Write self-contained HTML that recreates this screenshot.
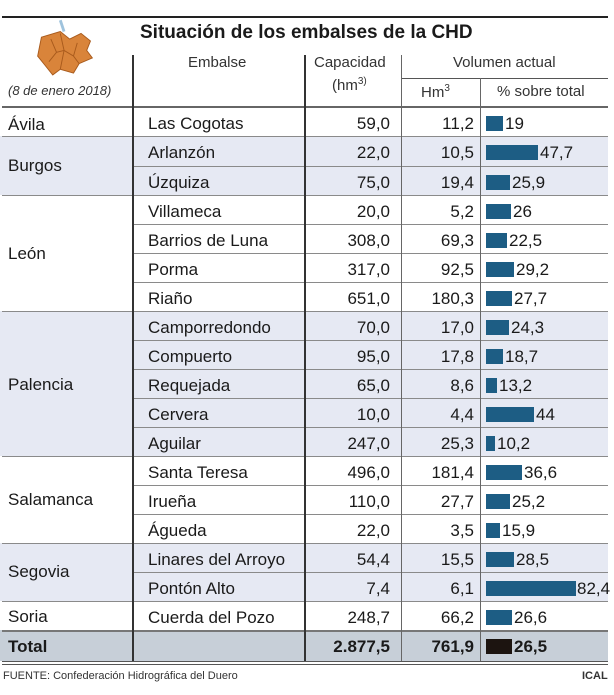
<!DOCTYPE html>
<html><head><meta charset="utf-8"><style>
*{margin:0;padding:0;box-sizing:border-box}
body{width:614px;height:695px;background:#fff;position:relative;overflow:hidden;font-family:"Liberation Sans",sans-serif;color:#1a1a1a}
.a{position:absolute}
.bg{position:absolute;left:0;width:608px}
.r{position:absolute;left:0;width:608px;height:29px;font-size:17px;line-height:33px}
.r span{position:absolute;white-space:nowrap}
.e{left:148px}
.c{right:218px;text-align:right}
.h{right:134px;text-align:right}
.b{left:486px;top:9px;height:15px;background:#1d5d84}
.hl{position:absolute;height:1px;background:#8a8a8a}
.vl{position:absolute;width:2px;background:#333}
.p{position:absolute;left:8px;font-size:17px}
</style></head><body>
<div class="a" style="left:2px;top:16px;width:606px;height:2px;background:#222"></div>
<svg class="a" style="left:32px;top:18px" width="66" height="62" viewBox="0 0 70 65">
<path d="M30 2 L34 14" stroke="#9fc3dd" stroke-width="3"/>
<path d="M10 20 L30 14 L40 22 L52 16 L62 24 L58 34 L64 42 L50 48 L44 58 L30 54 L22 60 L14 50 L6 40 L8 30 Z" fill="#d9843a" stroke="#a85a1c" stroke-width="1"/>
<path d="M20 22 L26 36 L18 46 M30 16 L34 34 L44 40 L48 26 M26 36 L34 34 M44 40 L50 48 M34 34 L30 54" stroke="#a85a1c" fill="none"/>
</svg>
<div class="a" style="left:140px;top:22px;font-size:19px;font-weight:bold">Situación de los embalses de la CHD</div>
<div class="a" style="left:8px;top:83px;font-size:13px;font-style:italic;color:#333">(8 de enero 2018)</div>
<div class="a" style="left:188px;top:54px;font-size:15px;color:#333">Embalse</div>
<div class="a" style="left:314px;top:54px;font-size:15px;color:#333">Capacidad</div>
<div class="a" style="left:332px;top:76px;font-size:15px;color:#333">(hm<sup style="font-size:10px">3)</sup></div>
<div class="a" style="left:453px;top:54px;font-size:15px;color:#333">Volumen actual</div>
<div class="a" style="left:421px;top:83px;font-size:15px;color:#333">Hm<sup style="font-size:10px">3</sup></div>
<div class="a" style="left:497px;top:83px;font-size:15px;color:#333">% sobre total</div>
<div class="hl" style="left:402px;top:78px;width:206px;background:#555"></div>
<div class="hl" style="left:2px;top:106px;width:606px;height:2px;background:#666"></div>
<div class="bg" style="top:136px;height:59px;background:#e6e9f3"></div>
<div class="bg" style="top:311px;height:145px;background:#e6e9f3"></div>
<div class="bg" style="top:543px;height:58px;background:#e6e9f3"></div>
<div class="bg" style="top:630px;height:31px;background:#c7cfd8"></div>
<div class="hl" style="left:2px;top:136px;width:606px"></div>
<div class="hl" style="left:133px;top:166px;width:475px"></div>
<div class="hl" style="left:2px;top:195px;width:606px"></div>
<div class="hl" style="left:133px;top:224px;width:475px"></div>
<div class="hl" style="left:133px;top:253px;width:475px"></div>
<div class="hl" style="left:133px;top:282px;width:475px"></div>
<div class="hl" style="left:2px;top:311px;width:606px"></div>
<div class="hl" style="left:133px;top:340px;width:475px"></div>
<div class="hl" style="left:133px;top:369px;width:475px"></div>
<div class="hl" style="left:133px;top:398px;width:475px"></div>
<div class="hl" style="left:133px;top:427px;width:475px"></div>
<div class="hl" style="left:2px;top:456px;width:606px"></div>
<div class="hl" style="left:133px;top:485px;width:475px"></div>
<div class="hl" style="left:133px;top:514px;width:475px"></div>
<div class="hl" style="left:2px;top:543px;width:606px"></div>
<div class="hl" style="left:133px;top:572px;width:475px"></div>
<div class="hl" style="left:2px;top:601px;width:606px"></div>
<div class="hl" style="left:2px;top:630px;width:606px;height:2px;background:#777"></div>
<div class="hl" style="left:2px;top:661px;width:606px;height:1px;background:#555"></div>
<div class="hl" style="left:2px;top:664px;width:606px;height:1px;background:#555"></div>
<div class="vl" style="left:132px;top:55px;height:606px"></div>
<div class="vl" style="left:304px;top:55px;height:606px"></div>
<div class="vl" style="left:401px;top:55px;height:606px;width:1px;background:#666"></div>
<div class="vl" style="left:480px;top:78px;height:583px;width:1px;background:#666"></div>
<div class="p" style="top:115px">Ávila</div>
<div class="p" style="top:156px">Burgos</div>
<div class="p" style="top:244px">León</div>
<div class="p" style="top:375px">Palencia</div>
<div class="p" style="top:490px">Salamanca</div>
<div class="p" style="top:562px">Segovia</div>
<div class="p" style="top:607px">Soria</div>
<div class="r" style="top:107px"><span class="e">Las Cogotas</span><span class="c">59,0</span><span class="h">11,2</span><span class="b" style="width:17px"></span><span style="left:505px">19</span></div>
<div class="r" style="top:136px"><span class="e">Arlanzón</span><span class="c">22,0</span><span class="h">10,5</span><span class="b" style="width:52px"></span><span style="left:540px">47,7</span></div>
<div class="r" style="top:166px"><span class="e">Úzquiza</span><span class="c">75,0</span><span class="h">19,4</span><span class="b" style="width:24px"></span><span style="left:512px">25,9</span></div>
<div class="r" style="top:195px"><span class="e">Villameca</span><span class="c">20,0</span><span class="h">5,2</span><span class="b" style="width:25px"></span><span style="left:513px">26</span></div>
<div class="r" style="top:224px"><span class="e">Barrios de Luna</span><span class="c">308,0</span><span class="h">69,3</span><span class="b" style="width:21px"></span><span style="left:509px">22,5</span></div>
<div class="r" style="top:253px"><span class="e">Porma</span><span class="c">317,0</span><span class="h">92,5</span><span class="b" style="width:28px"></span><span style="left:516px">29,2</span></div>
<div class="r" style="top:282px"><span class="e">Riaño</span><span class="c">651,0</span><span class="h">180,3</span><span class="b" style="width:26px"></span><span style="left:514px">27,7</span></div>
<div class="r" style="top:311px"><span class="e">Camporredondo</span><span class="c">70,0</span><span class="h">17,0</span><span class="b" style="width:23px"></span><span style="left:511px">24,3</span></div>
<div class="r" style="top:340px"><span class="e">Compuerto</span><span class="c">95,0</span><span class="h">17,8</span><span class="b" style="width:17px"></span><span style="left:505px">18,7</span></div>
<div class="r" style="top:369px"><span class="e">Requejada</span><span class="c">65,0</span><span class="h">8,6</span><span class="b" style="width:11px"></span><span style="left:499px">13,2</span></div>
<div class="r" style="top:398px"><span class="e">Cervera</span><span class="c">10,0</span><span class="h">4,4</span><span class="b" style="width:48px"></span><span style="left:536px">44</span></div>
<div class="r" style="top:427px"><span class="e">Aguilar</span><span class="c">247,0</span><span class="h">25,3</span><span class="b" style="width:9px"></span><span style="left:497px">10,2</span></div>
<div class="r" style="top:456px"><span class="e">Santa Teresa</span><span class="c">496,0</span><span class="h">181,4</span><span class="b" style="width:36px"></span><span style="left:524px">36,6</span></div>
<div class="r" style="top:485px"><span class="e">Irueña</span><span class="c">110,0</span><span class="h">27,7</span><span class="b" style="width:24px"></span><span style="left:512px">25,2</span></div>
<div class="r" style="top:514px"><span class="e">Águeda</span><span class="c">22,0</span><span class="h">3,5</span><span class="b" style="width:14px"></span><span style="left:502px">15,9</span></div>
<div class="r" style="top:543px"><span class="e">Linares del Arroyo</span><span class="c">54,4</span><span class="h">15,5</span><span class="b" style="width:28px"></span><span style="left:516px">28,5</span></div>
<div class="r" style="top:572px"><span class="e">Pontón Alto</span><span class="c">7,4</span><span class="h">6,1</span><span class="b" style="width:90px"></span><span style="left:577px">82,4</span></div>
<div class="r" style="top:601px"><span class="e">Cuerda del Pozo</span><span class="c">248,7</span><span class="h">66,2</span><span class="b" style="width:26px"></span><span style="left:514px">26,6</span></div>
<div class="r" style="top:630px;font-weight:bold"><span style="left:8px">Total</span><span class="c">2.877,5</span><span class="h">761,9</span><span class="b" style="width:26px;background:#1c1410"></span><span style="left:514px">26,5</span></div>
<div class="a" style="left:3px;top:670px;font-size:11px;color:#333">FUENTE: Confederación Hidrográfica del Duero</div>
<div class="a" style="left:582px;top:670px;font-size:11px;font-weight:bold;color:#333">ICAL</div>
</body></html>
